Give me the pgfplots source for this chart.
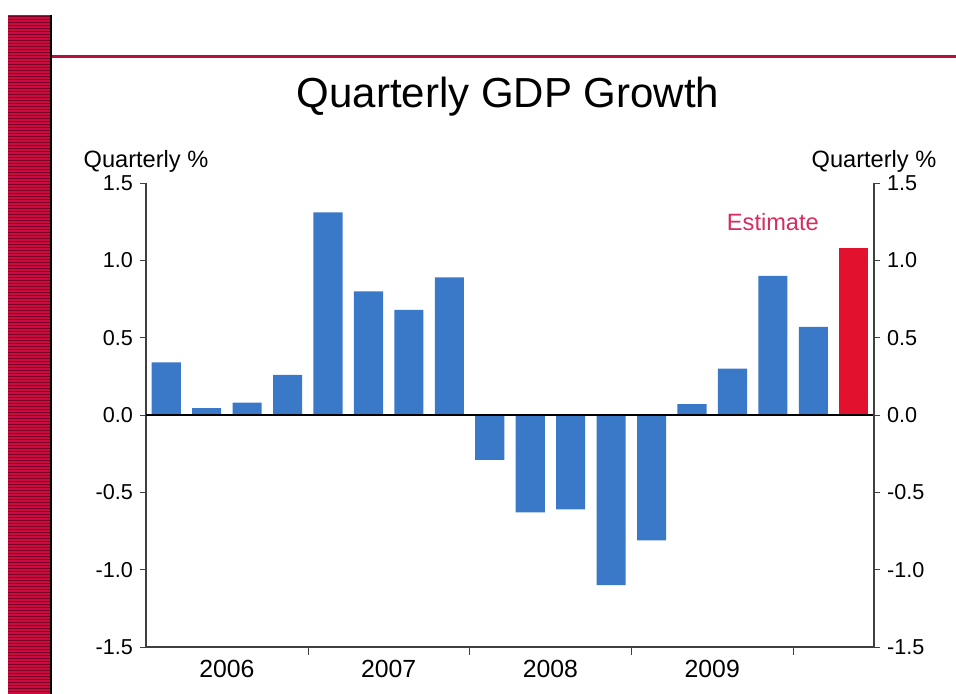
\documentclass[border=0pt]{standalone}
\usepackage{fontspec}
\setmainfont{Liberation Sans}
\usepackage{pgfplots}
\pgfplotsset{compat=1.18}
\definecolor{barblue}{RGB}{58,120,200}
\definecolor{barred}{RGB}{226,18,46}
\definecolor{estcol}{RGB}{214,44,96}
\definecolor{strip}{RGB}{204,10,66}
\definecolor{stripdark}{RGB}{120,0,36}
\definecolor{topline}{RGB}{180,16,60}
\begin{document}
\begin{tikzpicture}
\path[use as bounding box] (0,0) rectangle (478pt,347pt);
% decorative strip
\fill[strip] (4pt,0) rectangle (26pt,339.5pt);
\foreach \k in {0,...,225} {
  \draw[stripdark, line width=0.35pt] (4pt,{339.5pt-\k*1.5pt-0.5pt}) -- (25pt,{339.5pt-\k*1.5pt-0.5pt});
}
\draw[black, line width=1pt] (25.5pt,0) -- (25.5pt,339.5pt);
\draw[topline, line width=1.5pt] (26pt,318.5pt) -- (478pt,318.5pt);
\node[font=\fontsize{21}{25}\selectfont] at (254pt,298.5pt) {Quarterly GDP Growth};

\begin{axis}[
  at={(73pt,23.5pt)}, anchor=south west,
  width=364pt, height=232pt, scale only axis,
  xmin=0.5, xmax=18.5, ymin=-1.5, ymax=1.5,
  axis x line*=bottom, axis y line*=left,
  axis line style={-, line width=0.6pt, black!75},
  ytick={-1.5,-1,-0.5,0,0.5,1,1.5},
  yticklabel style={/pgf/number format/fixed, /pgf/number format/fixed zerofill, /pgf/number format/precision=1, font=\fontsize{10.8}{12}\selectfont},
  /pgf/number format/assume math mode=true,
  ytick align=outside, major tick length=3pt,
  xtick={2.5,6.5,10.5,14.5}, xticklabels={2006,2007,2008,2009},
  xticklabel style={font=\fontsize{12.4}{14}\selectfont},
  major x tick style={draw=none},
  minor xtick={4.5,8.5,12.5,16.5},
  minor x tick style={black!75},
  xtick align=center, minor tick length=4pt,
  tick style={black!75},
  ybar, bar width=0.72, bar shift=0pt,
  clip=false,
]
\addplot[fill=barblue, draw=none] coordinates {
(1,0.34) (2,0.045) (3,0.08) (4,0.26) (5,1.31) (6,0.80) (7,0.68) (8,0.89)
(9,-0.29) (10,-0.63) (11,-0.61) (12,-1.10) (13,-0.81)
(14,0.07) (15,0.30) (16,0.90) (17,0.57)
};
\addplot[fill=barred, draw=none] coordinates {(18,1.08)};
\draw[black, line width=0.8pt] (axis cs:0.5,0) -- (axis cs:18.5,0);
\node[anchor=base, font=\fontsize{11.8}{14}\selectfont] at (rel axis cs:0,1) [yshift=7.5pt] {Quarterly \%};
\node[estcol, font=\fontsize{11.8}{14}\selectfont] at (axis cs:16,1.25) {Estimate};
\end{axis}

\begin{axis}[
  at={(73pt,23.5pt)}, anchor=south west,
  width=364pt, height=232pt, scale only axis,
  xmin=0.5, xmax=18.5, ymin=-1.5, ymax=1.5,
  axis x line=none, axis y line*=right,
  axis line style={-, line width=0.6pt, black!75},
  ytick={-1.5,-1,-0.5,0,0.5,1,1.5},
  yticklabel style={/pgf/number format/fixed, /pgf/number format/fixed zerofill, /pgf/number format/precision=1, font=\fontsize{10.8}{12}\selectfont},
  /pgf/number format/assume math mode=true,
  ytick align=outside, major tick length=3pt,
  tick style={black!75},
  clip=false,
]
\addplot[draw=none] coordinates {(1,0)};
\node[anchor=base, font=\fontsize{11.8}{14}\selectfont] at (rel axis cs:1,1) [yshift=7.5pt] {Quarterly \%};
\end{axis}
\end{tikzpicture}
\end{document}
